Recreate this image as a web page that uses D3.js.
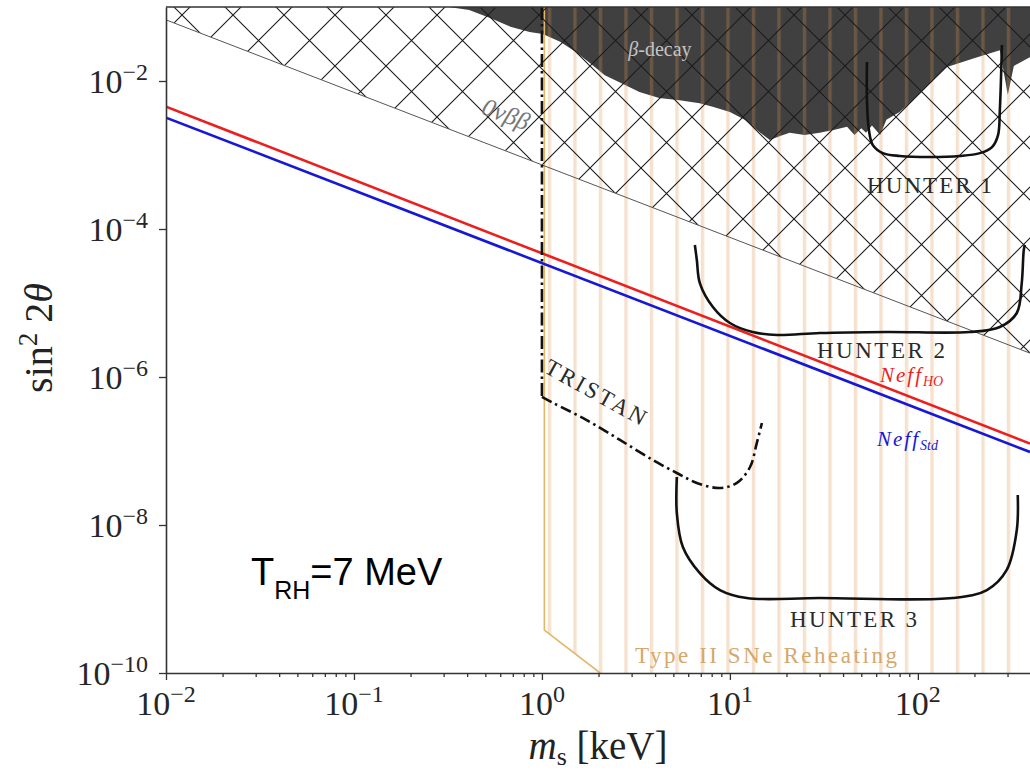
<!DOCTYPE html>
<html>
<head>
<meta charset="utf-8">
<script src="https://cdn.jsdelivr.net/npm/d3@7"></script>
<style>
body { margin: 0; background: #fff; }
svg { display: block; }
.serif { font-family: "Liberation Serif", "DejaVu Serif", serif; }
</style>
</head>
<body>
<svg id="chart" width="1030" height="774"></svg>
<script>
// values, as [m_s in keV, sin^2 2theta]
const massDomain = [0.01, 395];
const mixDomain = [1e-10, 1e-1];
const xTicks = [1e-2, 1e-1, 1, 10, 100];
const yTicks = [1e-10, 1e-8, 1e-6, 1e-4, 1e-2];

const neffHO = [[0.01, 4.5e-3], [395, 1.26e-7]];
const neffStd = [[0.01, 3.2e-3], [395, 9.7e-8]];
const dbdBound = [[0.01, 6.7e-2], [395, 2.1e-6]];
const snBound = [[1.03, 1e-1], [1.03, 3.8e-10], [2.04, 1e-10]];

const betaDecay = [
    [0.32, 1e-1], [0.41, 9.1e-2], [0.53, 7.1e-2], [0.68, 5.4e-2], [0.86, 4.6e-2],
    [1.01, 4.3e-2], [1.25, 3.4e-2], [1.5, 2.5e-2], [1.8, 1.75e-2], [2.16, 1.2e-2],
    [2.7, 9.1e-3], [3.3, 7.1e-3], [4.2, 5.9e-3], [5.4, 5.5e-3], [6.9, 5.0e-3],
    [8.1, 4.5e-3], [10, 3.8e-3], [12, 3.0e-3], [14.5, 2.0e-3], [16.3, 1.6e-3],
    [18.5, 1.8e-3], [20.8, 2.0e-3], [25, 1.86e-3], [30, 2.0e-3], [36, 2.2e-3],
    [42, 2.4e-3], [46, 1.86e-3], [50, 2.3e-3], [53, 2.0e-3], [57, 2.5e-3],
    [63, 1.86e-3], [68, 3.0e-3], [80, 3.8e-3], [94, 5.5e-3], [109, 8.0e-3],
    [143, 1.55e-2], [201, 2.05e-2], [273, 2.6e-2], [301, 6.5e-3], [324, 1.6e-2],
    [394, 2.1e-2], [500, 2.2e-2]
];

const tristanEdge = [[1, 1e-1], [1, 5.4e-7]];
const tristan = [
    [1, 5.4e-7], [1.15, 4.45e-7], [1.73, 2.62e-7], [2.6, 1.41e-7], [3.89, 7.55e-8],
    [5.22, 5.04e-8], [6.67, 3.7e-8], [8.85, 3.16e-8], [10.9, 3.7e-8], [12.8, 6.08e-8],
    [13.9, 1.28e-7], [14.8, 2.39e-7]
];

const hunter1 = [
    [53.6, 1.81e-2], [53.6, 5.54e-3], [54.9, 2.18e-3], [57.6, 1.36e-3], [65.1, 1.06e-3],
    [80.2, 9.7e-4], [116, 9.4e-4], [167, 9.7e-4], [214, 1.06e-3], [248, 1.28e-3],
    [267, 1.86e-3], [273, 4.06e-3], [280, 3.06e-2]
];
const hunter2 = [
    [6.51, 6.08e-5], [6.67, 3.81e-5], [6.92, 1.86e-5], [8.12, 8.83e-6], [10, 5.37e-6],
    [13.2, 4.06e-6], [17.8, 3.7e-6], [30.1, 3.93e-6], [68.4, 4.06e-6], [189, 4.06e-6],
    [273, 4.74e-6], [336, 7.33e-6], [357, 1.86e-5], [366, 5.2e-5], [371, 6.08e-5]
];
const hunter3 = [
    [5.22, 4.45e-8], [5.22, 1.45e-8], [5.62, 5.05e-9], [6.92, 2.24e-9], [8.85, 1.32e-9],
    [12.3, 1.03e-9], [30.1, 1.03e-9], [153, 1.03e-9], [233, 1.32e-9], [297, 2.47e-9],
    [336, 8.55e-9], [340, 2.54e-8]
];

const svg = d3.select("#chart");

const x = d3.scaleLog().domain(massDomain).range([166, 1030]);
const y = d3.scaleLog().domain(mixDomain).range([673, 7]);

const line = d3.line().x(d => x(d[0])).y(d => y(d[1]));
const smooth = d3.line().x(d => x(d[0])).y(d => y(d[1])).curve(d3.curveCatmullRom.alpha(0.5));

const defs = svg.append("defs");
defs.append("clipPath").attr("id", "plot-clip")
    .append("rect")
    .attr("x", x(massDomain[0])).attr("y", y(mixDomain[1]))
    .attr("width", 1030 - x(massDomain[0]) + 10)
    .attr("height", y(mixDomain[0]) - y(mixDomain[1]));

// matplotlib style 'x' hatch
const cross = defs.append("pattern").attr("id", "cross")
    .attr("patternUnits", "userSpaceOnUse")
    .attr("x", 29).attr("y", 15).attr("width", 51).attr("height", 51);
cross.append("path")
    .attr("d", "M-5,-5L56,56M56,-5L-5,56")
    .attr("stroke", "#1a1a1a").attr("stroke-width", 1.1);

// '|' hatch for the supernova region
const stripes = defs.append("pattern").attr("id", "stripes")
    .attr("patternUnits", "userSpaceOnUse")
    .attr("x", 12.3).attr("y", 0).attr("width", 25.5).attr("height", 20);
stripes.append("rect")
    .attr("width", 3.4).attr("height", 20)
    .attr("fill", "#d9924f").attr("opacity", 0.28);

const g = svg.append("g").attr("clip-path", "url(#plot-clip)");

// beta decay (filled dark)
const betaPoly = [[betaDecay[0][0], mixDomain[1]], ...betaDecay, [betaDecay[betaDecay.length - 1][0], mixDomain[1]]];
g.append("path")
    .attr("d", line(betaPoly) + "Z")
    .attr("fill", "#404040");

// Type II SNe reheating
const snPoly = [...snBound, [massDomain[1] * 1.3, mixDomain[0]], [massDomain[1] * 1.3, mixDomain[1]]];
g.append("path")
    .attr("d", line(snPoly) + "Z")
    .attr("fill", "url(#stripes)");
g.append("path")
    .attr("d", line(snBound))
    .attr("fill", "none")
    .attr("stroke", "#e2b768")
    .attr("stroke-width", 1.6);

// 0vbb hatched region
const dbdPoly = [...dbdBound, [massDomain[1], mixDomain[1]], [massDomain[0], mixDomain[1]]];
g.append("path")
    .attr("d", line(dbdPoly) + "Z")
    .attr("fill", "url(#cross)");
g.append("path")
    .attr("d", line(dbdBound))
    .attr("fill", "none")
    .attr("stroke", "#555")
    .attr("stroke-width", 1);

// Neff lines
g.append("path").attr("d", line(neffHO))
    .attr("fill", "none").attr("stroke", "#ec1f1f").attr("stroke-width", 2.6);
g.append("path").attr("d", line(neffStd))
    .attr("fill", "none").attr("stroke", "#1717d6").attr("stroke-width", 2.6);

// TRISTAN
g.append("path").attr("d", line(tristanEdge))
    .attr("fill", "none").attr("stroke", "#111").attr("stroke-width", 2.6)
    .attr("stroke-dasharray", "13,4,2.5,4");
g.append("path").attr("d", smooth(tristan))
    .attr("fill", "none").attr("stroke", "#111").attr("stroke-width", 2.6)
    .attr("stroke-dasharray", "11,4,2.5,4");

// HUNTER sensitivities
[hunter1, hunter2, hunter3].forEach(h => {
    g.append("path").attr("d", smooth(h))
        .attr("fill", "none").attr("stroke", "#111").attr("stroke-width", 2.6);
});

// region labels
const labels = svg.append("g").attr("class", "serif");

labels.append("text")
    .attr("x", 660).attr("y", 56)
    .attr("text-anchor", "middle")
    .style("font-size", "20px").style("fill", "#c4c4c4")
    .html('<tspan font-style="italic">β</tspan>-decay');

labels.append("text")
    .attr("transform", "translate(503,122) rotate(21)")
    .attr("text-anchor", "middle")
    .style("font-size", "25px").style("font-style", "italic").style("fill", "#777")
    .text("0νββ");

labels.append("text")
    .attr("transform", "translate(592,399) rotate(29)")
    .attr("text-anchor", "middle")
    .attr("textLength", 112)
    .style("font-size", "23px").style("fill", "#2a2a2a")
    .text("TRISTAN");

const hunterLabels = [
    { text: "HUNTER 1", x0: 867, x1: 992, base: 193 },
    { text: "HUNTER 2", x0: 817, x1: 945, base: 358 },
    { text: "HUNTER 3", x0: 790, x1: 917, base: 627 }
];
hunterLabels.forEach(d => {
    labels.append("text")
        .attr("x", d.x0).attr("y", d.base)
        .attr("textLength", d.x1 - d.x0)
        .style("font-size", "23px").style("fill", "#2a2a2a")
        .text(d.text);
});

labels.append("text")
    .attr("x", 635).attr("y", 663)
    .attr("textLength", 262)
    .style("font-size", "23px").style("fill", "#d6a86c")
    .text("Type II SNe Reheating");

labels.append("text")
    .attr("x", 880).attr("y", 382)
    .style("font-size", "21px").style("font-style", "italic").style("fill", "#ec1f1f")
    .html('<tspan letter-spacing="2">Neff</tspan><tspan font-size="14" dy="4">HO</tspan>');

labels.append("text")
    .attr("x", 877).attr("y", 446)
    .style("font-size", "21px").style("font-style", "italic").style("fill", "#1717d6")
    .html('<tspan letter-spacing="2">Neff</tspan><tspan font-size="14" dy="4">Std</tspan>');

// T_RH annotation
svg.append("text")
    .attr("x", 251).attr("y", 585)
    .style("font-family", "'Liberation Sans', Arial, sans-serif")
    .style("font-size", "38px").style("fill", "#000")
    .html('T<tspan font-size="25" dy="14">RH</tspan><tspan dy="-14">=7 MeV</tspan>');

// axes
const axisColor = "#333";
const minorX = [];
xTicks.forEach(t => { for (let k = 2; k <= 9; k++) if (t * k <= massDomain[1]) minorX.push(t * k); });

const xAxisG = svg.append("g").attr("transform", `translate(0,${y(mixDomain[0])})`);
xAxisG.call(d3.axisBottom(x).tickValues(xTicks).tickSize(7).tickSizeOuter(0).tickFormat(""));
const xMinorG = svg.append("g").attr("transform", `translate(0,${y(mixDomain[0])})`);
xMinorG.call(d3.axisBottom(x).tickValues(minorX).tickSize(4).tickSizeOuter(0).tickFormat(""));
xMinorG.select(".domain").remove();

const yAxisG = svg.append("g").attr("transform", `translate(${x(massDomain[0])},0)`);
yAxisG.call(d3.axisLeft(y).tickValues(yTicks).tickSize(7).tickSizeOuter(0).tickFormat(""));

svg.selectAll(".domain").attr("stroke", axisColor).attr("stroke-width", 1.6);
svg.selectAll(".tick line").attr("stroke", axisColor).attr("stroke-width", 1.3);

// top spine
svg.append("line")
    .attr("x1", x(massDomain[0])).attr("x2", 1030)
    .attr("y1", y(mixDomain[1])).attr("y2", y(mixDomain[1]))
    .attr("stroke", axisColor).attr("stroke-width", 1.6);

function powerLabel(sel, v) {
    const e = Math.round(Math.log10(v));
    sel.append("tspan").text("10");
    sel.append("tspan").attr("font-size", 24).attr("dy", -13)
        .text(e < 0 ? "\u2212" + (-e) : String(e));
}

const tickLabels = svg.append("g").attr("class", "serif")
    .style("font-size", "34px").style("fill", "#262626");

xTicks.forEach(v => {
    const t = tickLabels.append("text")
        .attr("x", x(v)).attr("y", 715)
        .attr("text-anchor", "middle");
    powerLabel(t, v);
});
yTicks.forEach(v => {
    const t = tickLabels.append("text")
        .attr("x", 148).attr("y", y(v) + 12)
        .attr("text-anchor", "end");
    powerLabel(t, v);
});

// axis titles
svg.append("text")
    .attr("class", "serif")
    .attr("transform", `translate(52,${(y(mixDomain[0]) + y(mixDomain[1])) / 2 - 2}) rotate(-90)`)
    .attr("text-anchor", "middle")
    .style("font-size", "40px").style("fill", "#222")
    .html('sin<tspan font-size="27" dy="-15">2</tspan><tspan dy="15"> 2</tspan><tspan font-style="italic">θ</tspan>');

svg.append("text")
    .attr("class", "serif")
    .attr("x", (x(massDomain[0]) + 1030) / 2).attr("y", 759)
    .attr("text-anchor", "middle")
    .style("font-size", "39px").style("fill", "#222")
    .html('<tspan font-style="italic">m</tspan><tspan font-size="26" dy="6">s</tspan><tspan dy="-6"> [keV]</tspan>');
</script>
</body>
</html>
